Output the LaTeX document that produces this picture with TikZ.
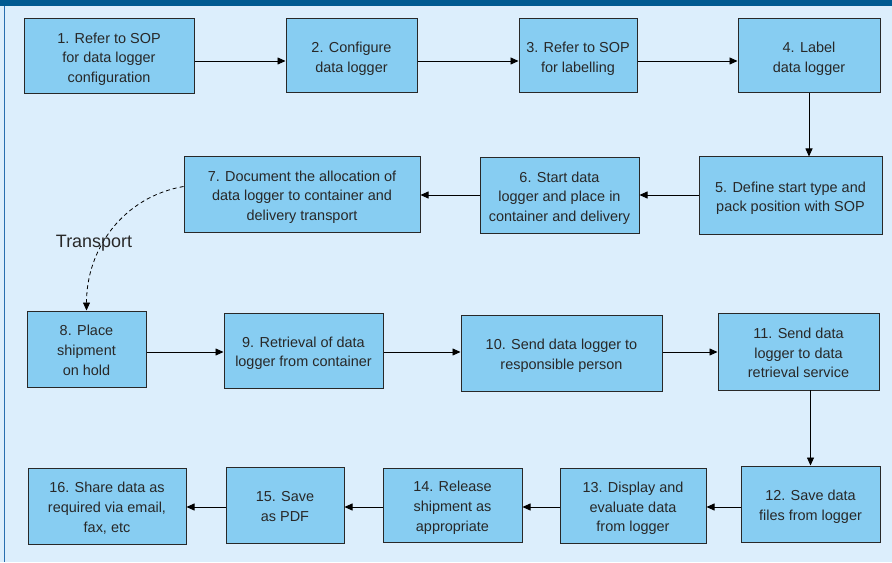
\documentclass[tikz,border=0pt]{standalone}
\usepackage{fontspec}
\setmainfont{Liberation Sans}
\usetikzlibrary{arrows.meta}
\usetikzlibrary{positioning,calc}

\definecolor{panelbg}{RGB}{220,238,252}
\definecolor{boxfill}{RGB}{135,205,242}
\definecolor{topbar}{RGB}{0,90,145}
\definecolor{edgeblue}{RGB}{40,110,175}
\definecolor{inkgray}{RGB}{40,40,40}

% fixed top and bottom so every box sits its lines the same way
\newcommand{\boxtxt}[1]{\rule{0pt}{17bp}#1\rule[-4bp]{0pt}{4bp}}

\tikzset{
  procbox/.style={draw=inkgray,fill=boxfill,line width=1pt,align=center,text=inkgray,
    font=\fontsize{14.5}{20}\selectfont,inner sep=0pt},
  flow/.style={->,>={Stealth[inset=0pt,length=8bp,width=7bp]},line width=0.8pt,draw=black},
}

\begin{document}
\begin{tikzpicture}[x=1bp,y=-1bp,line width=0.8pt]
    \fill[panelbg] (0,0) rectangle (892,562);
    \fill[topbar] (0,0) rectangle (892,6);
    \draw[edgeblue,line width=1.5bp] (4.5,6)--(4.5,562);
    \useasboundingbox (0,0) rectangle (892,562);

    \coordinate (r1) at (0,61);
    \coordinate (r2) at (0,195);
    \coordinate (r3) at (0,352);
    \coordinate (r4) at (0,507);

    \node[procbox,minimum width=170bp,minimum height=75bp] (b1) at (109,56.5) {\boxtxt{1. Refer to SOP\\for data logger\\configuration}};
    \node[procbox,minimum width=131bp,minimum height=74bp] (b2) at (351.5,56) {\boxtxt{2. Configure\\data logger}};
    \node[procbox,minimum width=118bp,minimum height=74bp] (b3) at (578,56) {\boxtxt{3. Refer to SOP\\for labelling}};
    \node[procbox,minimum width=142bp,minimum height=74bp] (b4) at (809,56) {\boxtxt{4. Label\\data logger}};

    \node[procbox,minimum width=183bp,minimum height=77bp] (b5) at (790.5,195.5) {\boxtxt{5. Define start type and\\pack position with SOP}};
    \node[procbox,minimum width=159bp,minimum height=75bp] (b6) at (559.5,195.5) {\boxtxt{6. Start data\\logger and place in\\container and delivery}};
    \node[procbox,minimum width=236bp,minimum height=75bp] (b7) at (302,194.5) {\boxtxt{7. Document the allocation of\\data logger to container and\\delivery transport}};

    \node[procbox,minimum width=119bp,minimum height=76bp] (b8) at (86.5,349) {\boxtxt{8. Place\\shipment\\on hold}};
    \node[procbox,minimum width=159bp,minimum height=75bp] (b9) at (303.5,350.5) {\boxtxt{9. Retrieval of data\\logger from container}};
    \node[procbox,minimum width=201bp,minimum height=76bp] (b10) at (561.5,353) {\boxtxt{10. Send data logger to\\responsible person}};
    \node[procbox,minimum width=161bp,minimum height=77bp] (b11) at (798.5,351.5) {\boxtxt{11. Send data\\logger to data\\retrieval service}};

    \node[procbox,minimum width=139bp,minimum height=76bp] (b12) at (810.5,504) {\boxtxt{12. Save data\\files from logger}};
    \node[procbox,minimum width=146bp,minimum height=75bp] (b13) at (633,505.5) {\boxtxt{13. Display and\\evaluate data\\from logger}};
    \node[procbox,minimum width=139bp,minimum height=74bp] (b14) at (452.5,505) {\boxtxt{14. Release\\shipment as\\appropriate}};
    \node[procbox,minimum width=118bp,minimum height=76bp] (b15) at (285,505) {\boxtxt{15. Save\\as PDF}};
    \node[procbox,minimum width=158bp,minimum height=76bp] (b16) at (107,506) {\boxtxt{16. Share data as\\required via email,\\fax, etc}};

    \draw[flow] (b1.east |- r1)--(b2.west |- r1);
    \draw[flow] (b2.east |- r1)--(b3.west |- r1);
    \draw[flow] (b3.east |- r1)--(b4.west |- r1);
    \draw[flow] (b4.south)--(b4.south |- b5.north);

    \draw[flow] (b5.west |- r2)--(b6.east |- r2);
    \draw[flow] (b6.west |- r2)--(b7.east |- r2);
    \draw[flow,dash pattern=on 4bp off 3bp] ([yshift=8bp]b7.west) to[out=190,in=90] (b8.north);
    \node[font=\fontsize{18}{20}\selectfont,text=inkgray] (lbl) at (94,243) {Transport};

    \draw[flow] (b8.east |- r3)--(b9.west |- r3);
    \draw[flow] (b9.east |- r3)--(b10.west |- r3);
    \draw[flow] (b10.east |- r3)--(b11.west |- r3);
    \draw[flow] (b12.north |- b11.south)--(b12.north);

    \draw[flow] (b12.west |- r4)--(b13.east |- r4);
    \draw[flow] (b13.west |- r4)--(b14.east |- r4);
    \draw[flow] (b14.west |- r4)--(b15.east |- r4);
    \draw[flow] (b15.west |- r4)--(b16.east |- r4);

    % \draw[flow] (b7.west)--(b8.north);
\end{tikzpicture}
\end{document}
